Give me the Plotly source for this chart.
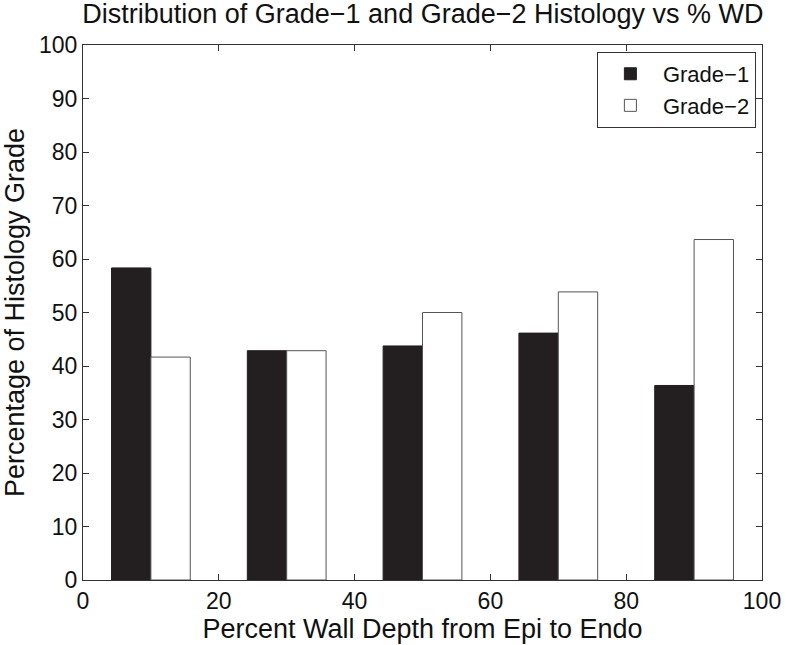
import plotly.graph_objects as go

bin_centers = [10, 30, 50, 70, 90]
grade1 = [58.33, 42.86, 43.75, 46.15, 36.36]
grade2 = [41.67, 42.86, 50.0, 53.85, 63.64]
x_ticks = [0, 20, 40, 60, 80, 100]
y_ticks = [0, 10, 20, 30, 40, 50, 60, 70, 80, 90, 100]

font_family = "Liberation Sans, Arial, Helvetica, sans-serif"

fig = go.Figure()
fig.add_trace(go.Bar(x=bin_centers, y=grade1, name="Grade\u22121",
                     marker=dict(color="#231f20", line=dict(color="#231f20", width=1))))
fig.add_trace(go.Bar(x=bin_centers, y=grade2, name="Grade\u22122",
                     marker=dict(color="white", line=dict(color="#555555", width=1))))

axis_common = dict(
    showline=True, linecolor="#333333", linewidth=1, mirror="ticks",
    ticks="inside", ticklen=6, tickcolor="#333333", tickwidth=1,
    showgrid=False, zeroline=False, automargin=False,
    tickfont=dict(family=font_family, size=23, color="#111111"),
)

fig.update_layout(
    width=786, height=645,
    margin=dict(l=83, r=24, t=45, b=65),
    paper_bgcolor="white", plot_bgcolor="white",
    barmode="group", bargap=0.42, bargroupgap=0,
    title=dict(text="Distribution of Grade\u22121 and Grade\u22122 Histology vs % WD",
               x=0.538, xanchor="center", y=0.979, yanchor="middle",
               font=dict(family=font_family, size=27, color="#111111")),
    xaxis=dict(range=[0, 100], tickvals=x_ticks,
               title=dict(text="Percent Wall Depth from Epi to Endo", standoff=0,
                          font=dict(family=font_family, size=27, color="#111111")),
               **axis_common),
    yaxis=dict(range=[0, 100], tickvals=y_ticks,
               title=dict(text="Percentage of Histology Grade", standoff=8,
                          font=dict(family=font_family, size=27, color="#111111")),
               **axis_common),
    legend=dict(x=0.991, y=0.987, xanchor="right", yanchor="top",
                bgcolor="white", bordercolor="#333333", borderwidth=1,
                font=dict(family=font_family, size=22, color="#111111"),
                itemwidth=55, tracegroupgap=0),
    showlegend=True,
)

fig.write_html("out.html", config={"displayModeBar": False},
               post_script="document.body.style.margin='0';")
